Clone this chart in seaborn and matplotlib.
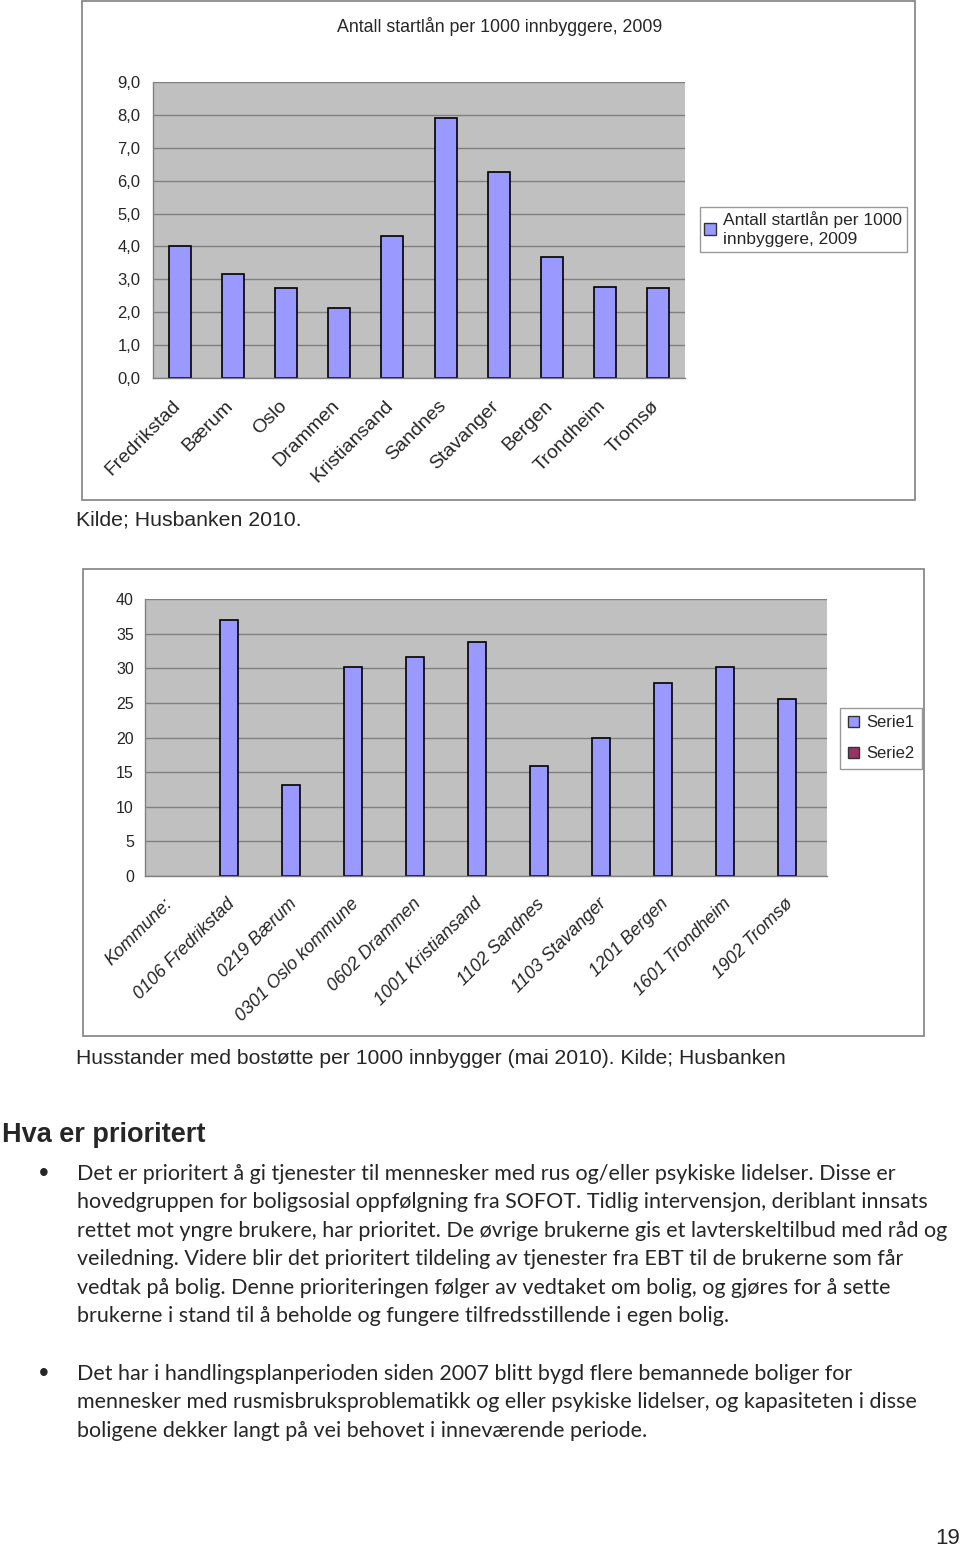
import numpy as np
import pandas as pd
import matplotlib
matplotlib.use("Agg")
import matplotlib.pyplot as plt
import matplotlib.transforms as mtransforms
from matplotlib.patches import Patch, Rectangle
from matplotlib import font_manager
import seaborn as sns

# Data: top chart (startlån per 1000 innbyggere, 2009)
cities = ["Fredrikstad", "Bærum", "Oslo", "Drammen", "Kristiansand",
          "Sandnes", "Stavanger", "Bergen", "Trondheim", "Tromsø"]
startlan = [4.0, 3.15, 2.75, 2.13, 4.33, 7.91, 6.25, 3.67, 2.78, 2.75]

# Data: bottom chart (husstander med bostøtte per 1000 innbygger, mai 2010)
kommuner = ["Kommune:", "0106 Fredrikstad", "0219 Bærum", "0301 Oslo kommune",
            "0602 Drammen", "1001 Kristiansand", "1102 Sandnes", "1103 Stavanger",
            "1201 Bergen", "1601 Trondheim", "1902 Tromsø"]
serie1 = [0, 36.9, 13.2, 30.2, 31.6, 33.8, 15.9, 19.9, 27.8, 30.2, 25.6]
serie2 = [0] * len(kommuner)

body1 = [
    "Det er prioritert å gi tjenester til mennesker med rus og/eller psykiske lidelser. Disse er",
    "hovedgruppen for boligsosial oppfølgning fra SOFOT. Tidlig intervensjon, deriblant innsats",
    "rettet mot yngre brukere, har prioritet. De øvrige brukerne gis et lavterskeltilbud med råd og",
    "veiledning. Videre blir det prioritert tildeling av tjenester fra EBT til de brukerne som får",
    "vedtak på bolig. Denne prioriteringen følger av vedtaket om bolig, og gjøres for å sette",
    "brukerne i stand til å beholde og fungere tilfredsstillende i egen bolig.",
]
body2 = [
    "Det har i handlingsplanperioden siden 2007 blitt bygd flere bemannede boliger for",
    "mennesker med rusmisbruksproblematikk og eller psykiske lidelser, og kapasiteten i disse",
    "boligene dekker langt på vei behovet i inneværende periode.",
]

sns.set_style("white")
names = {f.name for f in font_manager.fontManager.ttflist}
NARROW = "Liberation Sans Narrow" if "Liberation Sans Narrow" in names else "Liberation Sans"
ARIAL = "Liberation Sans"
BODY = "Lato"
plt.rcParams["font.family"] = [ARIAL, "DejaVu Sans"]

W, H = 960, 1548
fig = plt.figure(figsize=(W / 100, H / 100), dpi=100)
fig.patch.set_facecolor("white")


def fx(x):
    return x / W


def fy(y):
    return 1 - y / H


def box(x0, y0, x1, y1):
    return [fx(x0), fy(y1), (x1 - x0) / W, (y1 - y0) / H]


BAR = "#9999ff"
BG = "#c0c0c0"
GRID = "#808080"


def style_axes(ax, n, ymax, step, fmt, tick_fs):
    ax.set_facecolor(BG)
    ax.set_xlim(-0.5, n - 0.5)
    ax.set_ylim(0, ymax)
    ticks = np.arange(0, ymax + step / 2, step)
    ax.set_yticks(ticks)
    ax.set_yticklabels([fmt(t) for t in ticks], fontsize=tick_fs)
    ax.yaxis.grid(True, color=GRID, lw=1)
    ax.set_axisbelow(True)
    for s in ["top", "right"]:
        ax.spines[s].set_visible(False)
    for s in ["left", "bottom"]:
        ax.spines[s].set_color(GRID)
        ax.spines[s].set_linewidth(1)
    ax.set_xticks(np.arange(-0.5, n), minor=True)
    ax.tick_params(axis="x", which="minor", length=5, color=GRID, direction="out")
    ax.tick_params(axis="x", which="major", length=0)
    ax.tick_params(axis="y", length=5, color=GRID, direction="out", pad=6)
    ax.set_xlabel("")
    ax.set_ylabel("")
    # hide zero-height bars (they would draw a line on the axis)
    for p in ax.patches:
        if p.get_height() == 0:
            p.set_linewidth(0)


def shift_labels(ax, dx_px):
    off = mtransforms.ScaledTranslation(dx_px / 100, 0, fig.dpi_scale_trans)
    for lab in ax.get_xticklabels():
        lab.set_transform(lab.get_transform() + off)


# frames
fig.patches.append(Rectangle((fx(82), fy(500)), (915 - 82) / W, (500 - 1) / H,
                             transform=fig.transFigure, fill=False, ec="#808080", lw=1.2))
fig.patches.append(Rectangle((fx(83), fy(1036)), (924 - 83) / W, (1036 - 569) / H,
                             transform=fig.transFigure, fill=False, ec="#808080", lw=1.2))

# top chart
ax1 = fig.add_axes(box(153, 82, 685, 378))
df1 = pd.DataFrame({"by": cities, "verdi": startlan})
sns.barplot(data=df1, x="by", y="verdi", order=cities, color=BAR, saturation=1,
            edgecolor="black", linewidth=1.2, width=0.41, ax=ax1)
style_axes(ax1, len(cities), 9, 1, lambda t: f"{t:.1f}".replace(".", ","), 12)
ax1.set_xticks(np.arange(len(cities)))
ax1.set_xticklabels(cities, rotation=45, ha="right", va="top",
                    rotation_mode="anchor", fontsize=14)
ax1.tick_params(axis="x", which="major", pad=14)
ax1.tick_params(axis="y", pad=4)
shift_labels(ax1, -8)
fig.text(fx(500), fy(26), "Antall startlån per 1000 innbyggere, 2009",
         ha="center", va="center", fontsize=12.8, family=NARROW)
leg1 = fig.legend(handles=[Patch(facecolor=BAR, edgecolor="#333333", lw=1)],
                  labels=["Antall startlån per 1000\ninnbyggere, 2009"],
                  loc="upper left", bbox_to_anchor=(fx(700), fy(207)),
                  bbox_transform=fig.transFigure, fontsize=12.5, frameon=True,
                  fancybox=False, edgecolor="#808080", borderaxespad=0,
                  handlelength=0.7, handleheight=0.7, handletextpad=0.4,
                  borderpad=0.25, labelspacing=0.2)
leg1.get_texts()[0].set_linespacing(1.35)
fig.text(fx(76), fy(520), "Kilde; Husbanken 2010.", ha="left", va="center",
         fontsize=15.3, family=NARROW)

# bottom chart
ax2 = fig.add_axes(box(145, 599, 827, 876))
df2 = pd.DataFrame({
    "kommune": kommuner * 2,
    "verdi": serie1 + serie2,
    "serie": ["Serie1"] * len(kommuner) + ["Serie2"] * len(kommuner),
})
sns.barplot(data=df2, x="kommune", y="verdi", hue="serie", order=kommuner,
            hue_order=["Serie1", "Serie2"], palette=[BAR, "#993366"], saturation=1,
            edgecolor="black", linewidth=1.2, width=0.57, legend=False, ax=ax2)
style_axes(ax2, len(kommuner), 40, 5, lambda t: f"{t:.0f}", 11.5)
ax2.set_xticks(np.arange(len(kommuner)))
ax2.set_xticklabels(kommuner, rotation=45, ha="right", va="top",
                    rotation_mode="anchor", fontsize=13, style="italic")
ax2.tick_params(axis="x", which="major", pad=14)
ax2.tick_params(axis="y", pad=3)
shift_labels(ax2, -12)
fig.legend(handles=[Patch(facecolor=BAR, edgecolor="#333333", lw=1),
                    Patch(facecolor="#993366", edgecolor="#333333", lw=1)],
           labels=["Serie1", "Serie2"],
           loc="upper left", bbox_to_anchor=(fx(840), fy(708)),
           bbox_transform=fig.transFigure, fontsize=12, frameon=True,
           fancybox=False, edgecolor="#808080", borderaxespad=0,
           handlelength=0.7, handleheight=0.7, handletextpad=0.4,
           borderpad=0.45, labelspacing=0.95)
fig.text(fx(76), fy(1058), "Husstander med bostøtte per 1000 innbygger (mai 2010). Kilde; Husbanken",
         ha="left", va="center", fontsize=15.2, family=NARROW)

# text block
fig.text(fx(2), fy(1135), "Hva er prioritert", ha="left", va="center",
         fontsize=19.5, fontweight="bold", family=ARIAL)

LINE = 28.4
for block, y0 in [(body1, 1174), (body2, 1374)]:
    fig.text(fx(44), fy(y0), "•", ha="center", va="center", fontsize=20, family=ARIAL)
    for i, line in enumerate(block):
        fig.text(fx(77), fy(y0 + i * LINE), line, ha="left", va="center",
                 fontsize=15.5, family=BODY)

fig.text(fx(960), fy(1538), "19", ha="right", va="center", fontsize=16, family=NARROW)

fig.savefig("out.png", dpi=100)
